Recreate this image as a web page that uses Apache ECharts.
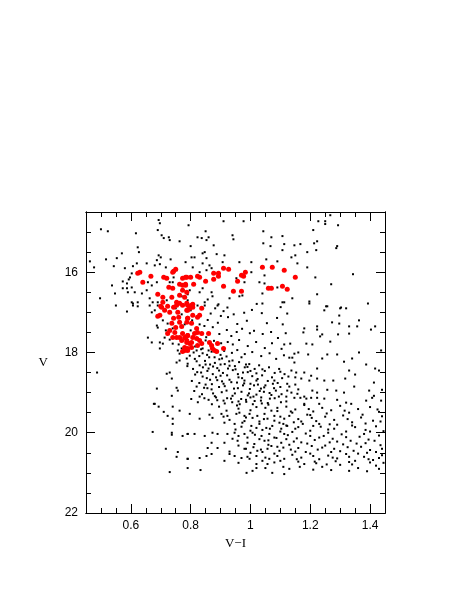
<!DOCTYPE html>
<html>
<head>
<meta charset="utf-8">
<script src="https://cdn.jsdelivr.net/npm/echarts@6/dist/echarts.min.js"></script>
<style>
html, body { margin: 0; padding: 0; background: #fff; }
#main { width: 463px; height: 599px; }
</style>
</head>
<body>
<div id="main"></div>
<script>
// axis ticks
var xMajorTicks = [0.6, 0.8, 1.0, 1.2, 1.4];
var xMinorTicks = [0.45, 0.5, 0.55, 0.65, 0.7, 0.75, 0.85, 0.9, 0.95, 1.05, 1.1, 1.15, 1.25, 1.3, 1.35, 1.45];
var yMajorTicks = [16, 18, 20, 22];
var yMinorTicks = [14.5, 15, 15.5, 16.5, 17, 17.5, 18.5, 19, 19.5, 20.5, 21, 21.5];

// black field / cluster stars  [V-I, V]
var brightField = [
  [0.50,14.93],[0.523,14.98],[0.617,15.03],[0.693,14.7],[0.697,14.78],[0.703,15.08],[0.727,15.13],[0.73,15.2],
  [0.71,15.15],[0.763,15.23],[0.69,14.95],[0.57,15.53],[0.623,15.38],[0.627,15.5],[0.517,15.68],[0.553,15.65],
  [0.463,15.73],[0.477,15.88],[0.543,15.85],[0.58,15.9],[0.607,15.85],[0.62,15.78],[0.653,15.78],[0.687,15.7],
  [0.693,15.58],[0.70,15.63],[0.697,15.8],[0.68,15.83],[0.717,15.88],[0.733,15.68],[0.753,15.95],[0.743,16.13],
  [0.597,16.13],[0.603,16.03],[0.593,16.18],[0.573,16.23],[0.587,16.28],[0.573,16.4],[0.537,16.33],[0.587,16.4],
  [0.603,16.38],[0.613,16.5],[0.59,16.5],[0.547,16.53],[0.637,16.53],[0.653,16.45],[0.67,16.33],[0.657,16.25],
  [0.623,16.75],[0.607,16.78],[0.663,16.65],[0.673,16.75],[0.69,16.83],[0.497,16.65],[0.73,16.25],[0.74,16.25],
  [0.687,16.25],
  [0.91,14.73],[0.977,14.73],[0.793,14.83],[0.85,14.98],[0.823,15.13],[0.837,15.15],[0.853,15.2],[0.86,15.13],
  [0.80,15.35],[0.877,15.33],[0.94,15.08],[0.943,15.18],[1.043,14.98],[1.07,15.13],[1.107,15.1],[1.043,15.28],
  [1.067,15.35],[1.107,15.45],[0.84,15.53],[0.847,15.5],[0.813,15.63],[0.803,15.63],[0.853,15.65],[0.887,15.55],
  [0.913,15.58],[1.003,15.75],[1.053,15.68],[1.09,15.73],[0.963,15.75],[0.907,15.75],[0.783,15.75],[0.84,15.78],
  [0.853,15.95],[0.83,16.0],[0.807,15.88],[0.87,15.9],[0.863,15.83],[0.953,16.15],[0.98,16.25],[1.003,16.0],
  [1.047,16.08],[1.03,16.25],[1.047,16.28],[1.09,16.38],[1.107,16.75],[1.04,16.53],[1.04,16.78],[0.973,16.58],
  [0.963,16.6],[0.93,16.65],[0.923,16.88],[0.89,16.83],[0.873,16.6],[0.857,16.68],[0.847,16.75],[0.823,16.83],
  [0.797,16.45],[0.79,16.55],[0.83,16.5],[0.84,16.4],[0.87,16.5],
  [1.227,14.73],[1.25,14.73],[1.267,14.58],[1.25,14.8],[1.293,14.83],[1.21,14.95],[1.223,15.23],[1.213,15.28],
  [1.167,15.3],[1.147,15.33],[1.29,15.35],[1.287,15.4],[1.19,15.5],[1.22,15.45],[1.15,15.58],[1.137,15.63],
  [1.157,15.78],[1.19,15.88],[1.217,16.13],[1.343,16.05],[1.27,16.3],[1.223,16.55],[1.14,16.65],[1.197,16.73],
  [1.197,16.78],[1.253,16.85],[1.30,16.9],[1.32,16.9],[1.393,16.78],[1.113,15.3],[1.113,16.75]
];

var redField = [
  [1.257,16.85],[1.247,16.95],[1.303,16.88],[1.123,17.03],[1.297,17.08],[1.273,17.25],[1.297,17.28],[1.363,17.2],
  [1.223,17.35],[1.223,17.43],[1.18,17.4],[1.33,17.35],[1.357,17.35],[1.417,17.35],[1.403,17.43],[1.177,17.5],
  [1.24,17.55],[1.233,17.6],[1.293,17.55],[1.33,17.53],[1.267,17.73],[1.133,17.78],[1.113,17.8],[1.187,17.78],
  [1.207,17.8],[1.16,18.0],[1.147,18.03],[1.193,18.05],[1.257,18.05],[1.29,18.05],[1.24,18.15],[1.363,18.0],
  [1.437,17.95],[1.13,18.13],[1.14,18.13],[1.147,18.25],[1.313,18.23],[1.34,18.15],[1.387,18.3],[1.137,18.45],
  [1.153,18.5],[1.18,18.5],[1.223,18.4],[1.33,18.45],[1.417,18.4],[1.43,18.45],[1.203,18.58],[1.127,18.6],
  [1.17,18.65],[1.197,18.7],[1.223,18.65],[1.247,18.7],[1.277,18.7],[1.317,18.65],[1.35,18.55],[1.413,18.75],
  [1.123,18.78],[1.15,18.8],[1.44,18.93],[1.123,18.95],[1.137,19.0],[1.157,19.03],[1.207,18.95],[1.223,19.0],
  [1.257,18.93],[1.287,18.95],[1.313,19.0],[1.347,18.85],[1.397,18.95],[1.413,19.08],[1.407,19.13],[1.12,19.1],
  [1.147,19.13],[1.167,19.13],[1.187,19.15],[1.203,19.13],[1.223,19.13],[1.247,19.15],[1.29,19.18],[1.32,19.25],
  [1.387,19.2],[1.18,19.28],[1.23,19.28],[1.337,19.28],[1.437,19.2]
];

var blueField = [
  [0.55,16.83],[0.603,16.75],[0.607,16.83],[0.623,16.85],[0.663,16.83],[0.67,17.0],[0.68,16.95],[0.69,16.75],
  [0.723,16.83],[0.587,16.98],[0.723,17.28],[0.707,17.2],[0.687,17.33],[0.69,17.38],[0.717,17.45],[0.657,17.63],
  [0.67,17.75],[0.697,17.75],[0.713,17.63],[0.73,17.68],[0.74,17.78],[0.707,17.78],[0.697,17.9],[0.757,17.95],
  [0.77,17.9],[0.763,18.03],[0.753,18.25],[0.763,18.2],[0.787,18.15],[0.79,18.28],[0.487,18.5],[0.72,18.53],
  [0.73,18.5],[0.737,18.65],[0.753,18.88],[0.757,18.95],[0.687,18.9],[0.737,19.08],[0.68,19.28],
  [0.677,19.28],[0.693,19.35],[0.74,19.35],[0.71,19.48],[0.723,19.58],[0.74,19.65],[0.74,19.78],[0.763,19.45],
  [0.673,19.98],[0.737,20.0],[0.737,20.05],[0.773,20.08],[0.79,20.03],[0.717,20.4],[0.757,20.48],[0.753,20.6],
  [0.79,20.65],[0.79,20.88],[0.73,20.98]
];

var turnoff = [
  [0.847,16.83],[0.867,17.03],[0.882,16.9],[0.893,16.8],[0.91,16.97],[0.901,17.09],[0.925,17.12],[0.944,17.05],
  [0.956,17.29],[0.979,17.01],[0.988,17.21],[1.005,16.94],[1.021,16.79],[1.038,17.02],[1.055,17.27],[1.089,17.14],
  [1.101,16.87],[1.108,17.3],[0.857,17.19],[0.846,17.34],[0.874,17.37],[0.891,17.26],[0.896,17.54],[0.921,17.44],
  [0.936,17.59],[0.954,17.49],[0.972,17.41],[0.998,17.52],[1.012,17.46],[1.041,17.54],[1.069,17.49],[1.092,17.64],
  [1.118,17.52],[0.852,17.62],[0.878,17.71],[0.902,17.77],[0.924,17.74],[0.941,17.8],[0.962,17.69],[0.991,17.84],
  [1.019,17.74],[1.048,17.89],[1.072,17.77],[1.104,17.91],[0.912,17.96],[0.938,18.01],[0.956,17.94],[0.981,18.04],
  [1.006,17.99],[1.036,18.09],[1.064,18.02],[1.086,18.16],[1.112,18.07],
  [0.797,18.08],[0.814,18.16],[0.829,18.09],[0.848,18.21],[0.862,18.12],[0.881,18.26],[0.896,18.17],[0.914,18.29],
  [0.929,18.22],[0.948,18.34],[0.962,18.24],[0.981,18.37],[0.996,18.29],[1.014,18.41],[1.029,18.32],[1.048,18.46],
  [1.062,18.37],[1.081,18.51],[1.096,18.41],[1.114,18.54],[0.789,18.34],[0.808,18.41],[0.822,18.49],[0.841,18.37],
  [0.856,18.46],[0.874,18.54],[0.889,18.39],[0.908,18.51],[0.922,18.57],[0.941,18.44],[0.958,18.54],[0.972,18.64],
  [0.991,18.49],[1.006,18.59],[1.024,18.66],[1.039,18.57],[1.058,18.71],[1.072,18.62],[1.091,18.76],[1.106,18.64],
  [0.804,18.71],[0.829,18.76],[0.854,18.64],[0.871,18.79],[0.889,18.69],[0.914,18.84],[0.936,18.74],[0.958,18.89],
  [0.979,18.77],[0.998,18.91],[1.012,18.82],[1.031,18.96],[1.046,18.87],[1.064,19.01],[1.079,18.89],[1.104,19.04],
  [0.812,18.96],[0.838,19.04],[0.856,18.89],[0.881,19.09],[0.904,18.99],[0.922,19.14],[0.948,19.02],[0.969,19.16],
  [0.991,19.07],[1.014,19.21],[1.036,19.12],[1.058,19.26],[1.081,19.14],[1.102,19.24],[0.802,19.16],[0.824,19.24],
  [0.846,19.14],[0.871,19.29],[0.889,19.19],[0.914,19.27],[0.939,19.24],[0.964,19.29],[0.986,19.23],[1.008,19.29],
  [1.038,19.27],
  [0.81,18.0],[0.84,18.02],[0.87,17.98],[0.9,18.06],[0.82,18.22],[0.85,18.3],[0.875,18.35],[0.9,18.3],
  [0.925,18.4],[0.95,18.42],[0.975,18.5],[1.0,18.46],[1.02,18.52],[0.815,18.55],[0.84,18.6],[0.865,18.68],
  [0.885,18.62],[0.905,18.72],[0.93,18.68],[0.955,18.75],[0.98,18.7],[1.0,18.78],[1.025,18.8],[1.05,18.82],
  [1.075,18.78],[1.1,18.86],[0.82,18.85],[0.845,18.88],[0.87,18.92],[0.895,18.86],[0.92,18.95],[0.945,18.9],
  [0.97,18.98],[0.995,19.02],[1.02,19.05],[1.045,18.98],[1.07,19.06],[1.095,19.1],[0.83,19.1],[0.86,19.18],
  [0.885,19.12],[0.91,19.2],[0.935,19.15],[0.96,19.22],[0.985,19.18],[1.01,19.1],[1.035,19.2],[1.06,19.3],
  [1.09,19.38],
  [0.72,16.7],[0.75,16.9],[0.77,17.05],[0.78,17.3],[0.8,17.45],[0.81,17.6],[0.83,17.3],[0.84,17.9],
  [0.76,17.8],[0.79,17.55],[0.805,17.2],[0.74,17.4],[0.82,17.95],[0.85,17.7],[0.86,17.95],[0.77,16.6],
  [0.79,16.7],[0.8,16.95],
  [0.815,17.85],[0.835,17.92],[0.855,18.06],[0.88,18.12],[0.905,18.15],[0.83,18.32],[0.86,18.4],[0.895,18.45],
  [0.92,18.1],[0.94,18.2],[0.97,18.12],[0.985,18.3],
  [0.865,18.3],[0.93,18.33],[0.99,18.36],[1.04,18.42],[1.1,18.48],[1.15,18.62],[0.835,18.5],[0.9,18.58],
  [0.96,18.62],[1.02,18.7],[1.08,18.7],[1.13,18.85],[0.85,18.8],[0.91,18.78],[0.975,18.82],[1.035,18.9],
  [1.085,18.95],[1.16,18.92],[0.875,19.02],[0.94,19.08],[1.0,19.12],[1.065,19.15],[1.12,19.22],[1.18,19.1]
];

var mainSequence = [
  [0.797,19.53],[0.83,19.65],[0.863,19.55],[0.873,19.63],[0.903,19.53],[0.92,19.45],[0.923,19.58],[0.953,19.53],
  [0.963,19.5],[0.98,19.58],[0.997,19.53],[1.007,19.63],[1.023,19.58],[1.047,19.53],[1.057,19.65],[1.08,19.58],
  [1.097,19.75],[1.113,19.65],[1.123,19.83],[0.913,19.75],[0.947,19.78],[0.973,19.75],[1.003,19.83],[1.03,19.78],
  [1.053,19.88],[1.073,19.83],[1.103,19.9],[0.79,20.03],[0.813,20.03],[0.847,20.08],[0.873,20.0],[0.89,20.03],
  [0.923,20.03],[0.947,20.0],[0.98,20.03],[1.007,20.0],[1.037,20.08],[1.063,20.03],[1.087,20.13],[1.113,20.03],
  [0.87,20.25],[0.913,20.25],[0.957,20.2],[0.99,20.25],[1.013,20.28],[1.047,20.2],[1.07,20.33],[1.103,20.25],
  [0.857,20.38],[0.89,20.38],[0.98,20.4],[1.023,20.45],[1.057,20.4],[1.097,20.45],[0.79,20.65],[0.83,20.63],
  [0.853,20.58],[0.87,20.53],[0.913,20.7],[0.93,20.53],[0.947,20.58],[0.97,20.63],[0.997,20.65],[1.02,20.58],
  [1.04,20.7],[1.063,20.65],[1.09,20.58],[1.113,20.65],[0.833,20.93],[0.987,21.0],[1.007,20.95],[1.02,20.88],
  [1.057,20.78],[1.073,21.0],[1.113,21.03],
  [0.96,19.4],[1.0,19.44],[1.05,19.38],[1.09,19.46],[0.93,19.68],[0.98,19.71],[1.03,19.72],[1.08,19.7],
  [0.95,19.92],[1.0,19.95],[1.04,19.93],[1.1,19.97],[0.94,20.15],[0.99,20.12],[1.03,20.16],[1.08,20.12],
  [0.96,20.32],[1.01,20.36],[1.06,20.3],[1.11,20.37],[0.93,20.47],[1.0,20.5],[1.04,20.48],[1.08,20.52],
  [0.96,20.75],[1.02,20.78],[1.08,20.74],[1.11,20.85],
  [1.12,19.35],[1.15,19.42],[1.18,19.31],[1.21,19.47],[1.24,19.38],[1.27,19.44],[1.30,19.33],[1.33,19.5],
  [1.36,19.41],[1.40,19.36],[1.43,19.48],[1.13,19.58],[1.16,19.66],[1.19,19.55],[1.22,19.71],[1.25,19.6],
  [1.28,19.68],[1.31,19.57],[1.34,19.74],[1.37,19.62],[1.41,19.7],[1.44,19.59],[1.12,19.82],[1.15,19.9],
  [1.175,19.78],[1.20,19.95],[1.235,19.85],[1.26,19.92],[1.29,19.8],[1.32,19.97],[1.35,19.86],[1.385,19.93],
  [1.42,19.84],[1.125,20.06],[1.155,20.14],[1.185,20.02],[1.215,20.18],[1.245,20.08],[1.275,20.15],[1.305,20.04],
  [1.335,20.2],[1.365,20.1],[1.395,20.17],[1.43,20.07],[1.13,20.3],[1.16,20.38],[1.19,20.27],[1.225,20.42],
  [1.25,20.32],[1.28,20.4],[1.31,20.29],[1.345,20.45],[1.37,20.35],[1.40,20.43],[1.435,20.31],[1.14,20.55],
  [1.17,20.62],[1.2,20.52],[1.23,20.66],[1.26,20.57],[1.29,20.64],[1.32,20.53],[1.35,20.7],[1.38,20.6],
  [1.41,20.68],[1.44,20.56],[1.18,20.78],[1.24,20.85],[1.3,20.8],[1.36,20.88],[1.42,20.82],[1.27,20.93],
  [1.39,20.96],
  [1.135,19.47],[1.195,19.41],[1.255,19.52],[1.315,19.45],[1.375,19.55],[1.425,19.42],[1.145,19.74],[1.205,19.63],
  [1.265,19.79],[1.325,19.66],[1.385,19.77],[1.435,19.72],[1.14,19.98],[1.2,20.08],[1.26,20.0],[1.32,20.11],
  [1.38,20.03],[1.445,19.96],[1.145,20.22],[1.205,20.33],[1.265,20.24],[1.325,20.36],[1.385,20.26],[1.44,20.4],
  [1.15,20.47],[1.21,20.58],[1.27,20.48],[1.33,20.6],[1.39,20.5],[1.43,20.63],[1.16,20.72],[1.22,20.76],
  [1.285,20.71],[1.34,20.79],[1.4,20.74],
  [0.895,19.35],[0.955,19.32],[1.02,19.36],[1.07,19.45],[1.14,19.5],[1.2,19.56],[0.91,19.6],[0.985,19.62],
  [1.045,19.66],[1.1,19.6],[1.17,19.72],[1.23,19.78],
  [0.97,19.85],[1.02,19.88],[1.065,19.9],[1.11,19.78],[1.16,19.86],[1.21,19.83],[1.28,19.9],[1.34,19.82],
  [1.4,19.97],[0.96,20.08],[1.015,20.05],[1.06,20.19],[1.12,20.16],[1.17,20.24],[1.23,20.12],[1.29,20.22],
  [1.355,20.27],[1.415,20.2],[0.985,20.4],[1.035,20.42],[1.09,20.35],[1.135,20.42],[1.185,20.48],[1.24,20.37],
  [1.3,20.46],[1.36,20.52],[1.42,20.48],[0.99,20.6],[1.05,20.62],[1.1,20.7],[1.155,20.66],[1.215,20.72],
  [1.275,20.62],[1.33,20.73],[1.395,20.66],[1.445,20.75],[1.05,20.88],[1.13,20.9],[1.21,20.92],[1.33,20.95],
  [1.43,20.9],[1.165,20.85],[1.255,20.79]
];

// red members
var redMembers = [
  [1.04,15.875],[1.073,15.875],[1.113,15.95],[1.15,16.125],[1.06,16.4],[1.07,16.4],[1.107,16.35],[1.123,16.425],
  [0.91,15.9],[0.927,15.925],[0.97,16.075],[0.983,16.0],[0.977,16.1],[0.957,16.225],[0.91,16.35],[0.943,16.475],
  [0.97,16.475],[0.877,16.025],[0.893,16.025],[0.893,16.1],[0.877,16.175],[0.85,16.225],[0.783,16.125],[0.80,16.125],
  [0.823,16.1],[0.83,16.125],[0.81,16.3],[0.783,16.3],
  [0.623,16.025],[0.63,16.0],[0.667,16.1],[0.64,16.25],[0.71,16.125],[0.72,16.15],[0.743,15.975],[0.75,15.925],
  [0.74,16.0],[0.787,16.125],[0.773,16.15],[0.763,16.3],[0.773,16.325],[0.783,16.325],[0.74,16.4],[0.727,16.375],
  [0.69,16.55],[0.707,16.625],[0.737,16.625],[0.773,16.45],[0.787,16.5],[0.763,16.575],[0.78,16.625],[0.70,16.85],
  [0.723,16.85],[0.753,16.825],[0.763,16.775],[0.79,16.825],
  [0.707,16.75],[0.753,16.75],[0.743,16.875],[0.773,16.825],[0.703,16.875],[0.713,16.95],[0.697,17.075],[0.69,17.1],
  [0.73,17.0],[0.757,17.0],[0.787,16.95],[0.743,17.15],[0.76,17.125],[0.763,17.25],[0.79,17.15],[0.737,17.275],
  [0.75,17.375],[0.77,17.35],[0.73,17.45],[0.723,17.525],[0.747,17.5],[0.753,17.625],[0.74,17.625],[0.763,17.625],
  [0.773,17.525],[0.783,17.625],[0.79,17.575],[0.77,17.7],[0.787,17.75],[0.78,17.875],[0.773,17.975],[0.79,17.95],
  [0.787,16.775],[0.803,16.825],[0.797,16.9],[0.807,16.875],[0.79,16.95],[0.807,17.075],[0.823,17.125],[0.83,17.075],
  [0.79,17.15],[0.787,17.25],[0.803,17.275],[0.82,17.4],[0.823,17.5],[0.837,17.525],[0.813,17.525],[0.86,17.525],
  [0.79,17.575],[0.78,17.625],[0.787,17.7],[0.807,17.625],[0.82,17.65],[0.83,17.7],[0.837,17.775],[0.803,17.75],
  [0.797,17.775],[0.823,17.825],[0.863,17.75],[0.87,17.825],[0.89,17.775],[0.88,17.95],[0.873,17.9],[0.887,17.975],
  [0.91,17.9],[0.78,17.95],[0.803,17.875],[0.79,17.9],[0.797,16.875],[0.807,16.8],[0.837,16.9]
];

var blackStars = brightField.concat(redField, blueField, turnoff, mainSequence);

var chart = echarts.init(document.getElementById('main'));

var tickFont = { color: '#000', fontFamily: 'Liberation Sans', fontSize: 12 };
var nameFont = { color: '#000', fontFamily: 'Liberation Serif', fontSize: 13 };
var axisLine = { show: true, lineStyle: { color: '#000', width: 1 } };

function xAxisDef(pos, ticks, len, labels) {
    return {
        type: 'value', position: pos, min: 0.45, max: 1.45,
        axisLine: axisLine,
        axisTick: { show: true, inside: true, length: len, customValues: ticks, lineStyle: { color: '#000' } },
        axisLabel: labels ? Object.assign({ show: true, margin: 7, customValues: ticks,
            formatter: function (v) { return String(Math.round(v * 100) / 100); } }, tickFont) : { show: false },
        splitLine: { show: false }
    };
}
function yAxisDef(pos, ticks, len, labels) {
    return {
        type: 'value', position: pos, min: 14.5, max: 22, inverse: true,
        axisLine: axisLine,
        axisTick: { show: true, inside: true, length: len, customValues: ticks, lineStyle: { color: '#000' } },
        axisLabel: labels ? Object.assign({ show: true, margin: 8, customValues: ticks }, tickFont) : { show: false },
        splitLine: { show: false }
    };
}

var xMain = xAxisDef('bottom', xMajorTicks, 9, true);
xMain.name = 'V\u2212I';
xMain.nameLocation = 'middle';
xMain.nameGap = 23;
xMain.nameTextStyle = nameFont;

var yMain = yAxisDef('left', yMajorTicks, 9, true);
yMain.name = 'V';
yMain.nameLocation = 'middle';
yMain.nameRotate = 0;
yMain.nameGap = 38;
yMain.nameTextStyle = Object.assign({ padding: [0, 0, 20, 0] }, nameFont);

chart.setOption({
    animation: false,
    backgroundColor: '#fff',
    grid: { left: 86, top: 212, width: 299, height: 301, containLabel: false },
    xAxis: [
        xMain,
        xAxisDef('bottom', xMinorTicks, 5, false),
        xAxisDef('top', xMajorTicks, 9, false),
        xAxisDef('top', xMinorTicks, 5, false)
    ],
    yAxis: [
        yMain,
        yAxisDef('left', yMinorTicks, 5, false),
        yAxisDef('right', yMajorTicks, 9, false),
        yAxisDef('right', yMinorTicks, 5, false)
    ],
    series: [
        {
            name: 'field',
            type: 'scatter',
            xAxisIndex: 0, yAxisIndex: 0,
            data: blackStars,
            symbol: 'rect',
            symbolSize: 2,
            itemStyle: { color: '#000', opacity: 1 },
            silent: true
        },
        {
            name: 'members',
            type: 'scatter',
            xAxisIndex: 0, yAxisIndex: 0,
            data: redMembers,
            symbolSize: 5,
            itemStyle: { color: '#ff0000', opacity: 1 },
            silent: true
        }
    ]
});
</script>
</body>
</html>
